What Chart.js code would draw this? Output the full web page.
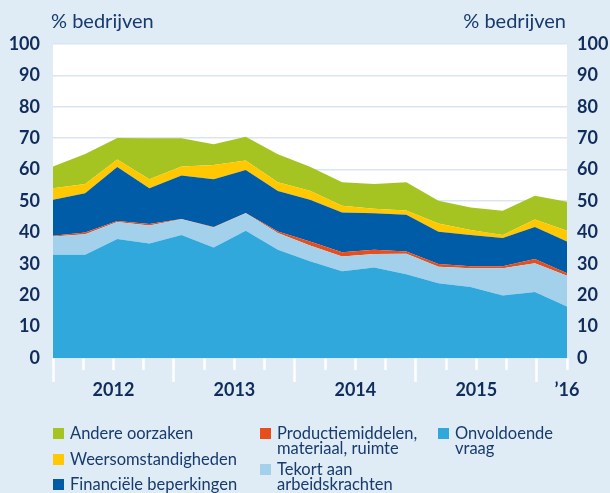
<!DOCTYPE html>
<html>
<head>
<meta charset="utf-8">
<script src="https://cdn.jsdelivr.net/npm/chart.js@4"></script>
<style>
body { margin: 0; background: #dfebf5; }
#wrap { position: relative; width: 610px; height: 493px; overflow: hidden; font-family: Lato, sans-serif; color: #173b6d; }
.unit { position: absolute; top: 10px; font-size: 20px; line-height: 20px; }
.leg { position: absolute; font-size: 16.5px; line-height: 14.5px; white-space: nowrap; }
.leg i { position: absolute; left: -17px; top: 2px; width: 11px; height: 11px; }
</style>
</head>
<body>
<div id="wrap">
  <canvas id="myChart" width="610" height="493"></canvas>
  <div class="unit" style="left:51px">% bedrijven</div>
  <div class="unit" style="right:44px">% bedrijven</div>
  <div class="leg" style="left:70px;top:426px"><i style="background:#a5c422"></i>Andere oorzaken</div>
  <div class="leg" style="left:70px;top:452px"><i style="background:#ffc800"></i>Weersomstandigheden</div>
  <div class="leg" style="left:70px;top:477px"><i style="background:#005ca6"></i>Financiële beperkingen</div>
  <div class="leg" style="left:277px;top:426px"><i style="background:#e84e1b"></i>Productiemiddelen,<br>materiaal, ruimte</div>
  <div class="leg" style="left:277px;top:462px"><i style="background:#a3d0ea"></i>Tekort aan<br>arbeidskrachten</div>
  <div class="leg" style="left:455px;top:426px"><i style="background:#31a8dc"></i>Onvoldoende<br>vraag</div>
</div>
<script>
// quarters 2012 K1 .. 2016 K1
var quarters = ['2012-1', '2012-2', '2012-3', '2012-4', '2013-1', '2013-2', '2013-3', '2013-4',
    '2014-1', '2014-2', '2014-3', '2014-4', '2015-1', '2015-2', '2015-3', '2015-4', '2016-1'];

var onvoldoendeVraag = [32.9, 32.9, 37.9, 36.5, 39.2, 35.2, 40.5, 34.5, 30.8, 27.6, 28.8, 26.7, 23.8, 22.6, 19.9, 21.0, 16.4];
var tekortArbeid = [5.8, 6.5, 5.4, 5.7, 5.0, 6.4, 5.6, 5.3, 5.0, 4.7, 4.3, 6.5, 5.3, 6.0, 8.7, 9.2, 9.8];
var productiemiddelen = [0.2, 0.6, 0.3, 0.5, 0.1, 0.1, 0.1, 0.5, 1.3, 1.4, 1.4, 0.7, 0.8, 0.6, 0.6, 1.3, 0.8];
var financieel = [11.5, 12.5, 17.2, 11.4, 13.8, 15.2, 13.7, 12.9, 13.3, 12.6, 11.6, 11.7, 10.3, 10.0, 9.0, 10.2, 10.1];
var weer = [3.7, 2.9, 2.4, 2.8, 2.9, 4.6, 3.0, 2.8, 2.9, 2.2, 1.4, 1.4, 2.6, 1.6, 1.0, 2.4, 3.4];
var andere = [6.9, 9.6, 6.9, 13.1, 9.0, 6.6, 7.6, 8.9, 7.6, 7.5, 7.9, 9.0, 7.3, 7.1, 7.7, 7.6, 9.3];

// x axis: quarter boundaries 0..17, years centered
var minorTicks = [1, 2, 3, 5, 6, 7, 9, 10, 11, 13, 14, 15, 17];
var majorTicks = [0, 4, 8, 12, 16];
var yearTicks = [2, 6, 10, 14, 17];
var yearLabels = ['2012', '2013', '2014', '2015', '\u201916'];

var navy = '#0f2c5b';
var tickFont = { family: 'Lato', size: 18, weight: 'bold' };

var plotBackground = {
    id: 'plotBackground',
    beforeDraw: function(chart) {
        var a = chart.chartArea;
        var ctx = chart.ctx;
        ctx.save();
        ctx.fillStyle = '#ffffff';
        ctx.fillRect(a.left, a.top, a.right - a.left, a.bottom - a.top);
        ctx.restore();
    }
};

function area(label, data, color, fill) {
    return {
        label: label,
        data: data,
        backgroundColor: color,
        borderColor: color,
        borderWidth: 0,
        pointRadius: 0,
        tension: 0,
        fill: fill
    };
}

function tickAxis(list, length) {
    return {
        type: 'linear',
        position: 'bottom',
        min: 0,
        max: 17,
        afterBuildTicks: function(axis) {
            axis.ticks = list.map(function(v) { return { value: v }; });
        },
        afterFit: function(axis) { axis.height = 0; },
        ticks: { display: false },
        border: { display: false },
        grid: {
            drawOnChartArea: false,
            tickLength: length,
            tickColor: '#ffffff',
            tickWidth: 2.5
        }
    };
}

var ctx = document.getElementById('myChart').getContext('2d');
var myChart = new Chart(ctx, {
    type: 'line',
    data: {
        labels: quarters,
        datasets: [
            area('Onvoldoende vraag', onvoldoendeVraag, '#31a8dc', 'origin'),
            area('Tekort aan arbeidskrachten', tekortArbeid, '#a3d0ea', '-1'),
            area('Productiemiddelen, materiaal, ruimte', productiemiddelen, '#e84e1b', '-1'),
            area('Financiële beperkingen', financieel, '#005ca6', '-1'),
            area('Weersomstandigheden', weer, '#ffc800', '-1'),
            area('Andere oorzaken', andere, '#a5c422', '-1')
        ]
    },
    options: {
        responsive: false,
        animation: false,
        layout: { padding: { top: 44, left: 0, right: 0, bottom: 0 } },
        plugins: { legend: { display: false }, tooltip: { enabled: false } },
        scales: {
            x: { display: false, offset: false },
            xMinor: tickAxis(minorTicks, 12),
            xMajor: tickAxis(majorTicks, 24),
            xYears: {
                type: 'linear',
                position: 'bottom',
                min: 0,
                max: 17,
                afterBuildTicks: function(axis) {
                    axis.ticks = yearTicks.map(function(v) { return { value: v }; });
                },
                afterFit: function(axis) { axis.height = 135; },
                border: { display: false },
                grid: { display: false, drawTicks: false },
                ticks: {
                    autoSkip: false,
                    maxRotation: 0,
                    padding: 21,
                    color: navy,
                    font: tickFont,
                    callback: function(value) {
                        var i = yearTicks.indexOf(value);
                        return i < 0 ? '' : yearLabels[i];
                    }
                }
            },
            y: {
                stacked: true,
                min: 0,
                max: 100,
                afterFit: function(axis) { axis.width = 53; },
                border: { display: false },
                grid: { color: '#d9e6f2', lineWidth: 1.5, drawTicks: false },
                ticks: { stepSize: 10, padding: 13, color: navy, font: tickFont }
            },
            y2: {
                position: 'right',
                min: 0,
                max: 100,
                afterFit: function(axis) { axis.width = 43; },
                border: { display: false },
                grid: { display: false, drawTicks: false },
                ticks: { stepSize: 10, padding: 10, color: navy, font: tickFont }
            }
        }
    },
    plugins: [plotBackground]
});
</script>
</body>
</html>
